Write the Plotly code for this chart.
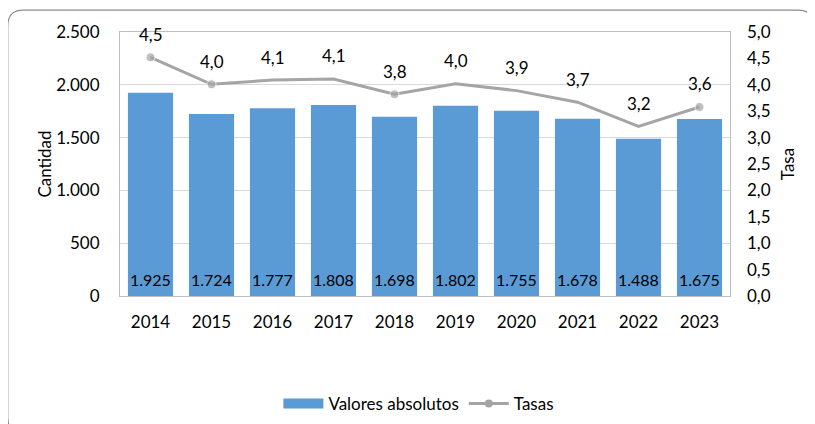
import plotly.graph_objects as go

years = ["2014", "2015", "2016", "2017", "2018", "2019", "2020", "2021", "2022", "2023"]
valores = [1925, 1724, 1777, 1808, 1698, 1802, 1755, 1678, 1488, 1675]
tasas = [4.52, 4.01, 4.09, 4.11, 3.82, 4.02, 3.89, 3.67, 3.21, 3.58]
tasas_label = ["4,5", "4,0", "4,1", "4,1", "3,8", "4,0", "3,9", "3,7", "3,2", "3,6"]
marker_sizes = [9, 9, 0, 0, 9, 0, 0, 0, 0, 9]

FONT = "Lato"
FS = 17
BLUE = "#5B9BD5"
GRAY = "#A5A5A5"

fig = go.Figure()
fig.add_trace(go.Bar(
    x=years, y=valores, name="Valores absolutos", showlegend=False,
    marker=dict(color=BLUE, line=dict(width=0)),
))
# legend-only entries
fig.add_trace(go.Scatter(
    x=[None], y=[None], name="Valores absolutos", mode="lines",
    line=dict(color=BLUE, width=11),
))
fig.add_trace(go.Scatter(
    x=[None], y=[None], name="Tasas", mode="lines+markers", yaxis="y2",
    line=dict(color=GRAY, width=3), marker=dict(color=GRAY, size=8),
))
fig.add_trace(go.Scatter(
    x=years, y=tasas, name="Tasas", yaxis="y2", mode="lines+markers", showlegend=False,
    line=dict(color=GRAY, width=3),
    marker=dict(color=GRAY, size=marker_sizes),
))
for i, v in enumerate(valores):
    fig.add_annotation(x=i, y=0, xref="x", yref="y", text=f"{v:,}".replace(",", "."),
                       showarrow=False, yshift=17, yanchor="middle",
                       font=dict(family=FONT, size=16, color="#000000"))
for i, (t, lab) in enumerate(zip(tasas, tasas_label)):
    fig.add_annotation(x=i, y=t, xref="x", yref="y2", text=lab, showarrow=False,
                       yshift=23, font=dict(family=FONT, size=FS, color="#000000"))

# rounded outer border (in paper units)
L, R, T, B = -0.184, 1.137, 1.083, -0.52
rx, ry = 0.025, 0.06
path = (f"M {L},{B+ry} L {L},{T-ry} Q {L},{T} {L+rx},{T} "
        f"L {R-rx},{T} Q {R},{T} {R},{T-ry} L {R},{B} "
        f"M {L},{B+ry} Q {L},{B} {L+rx},{B}")
fig.add_shape(type="path", xref="paper", yref="paper", path=path,
              line=dict(color="#8C8C8C", width=1.2), layer="below")

fig.update_layout(
    width=815, height=424,
    margin=dict(l=112, r=93, t=24, b=135),
    paper_bgcolor="white", plot_bgcolor="white",
    separators=",.",
    bargap=0.26,
    font=dict(family=FONT, size=FS, color="#000000"),
    showlegend=True,
    legend=dict(orientation="h", x=0.49, xanchor="center", y=-0.404, yanchor="middle",
                font=dict(family=FONT, size=FS), itemwidth=40, traceorder="normal"),
    xaxis=dict(type="category", range=[-0.5, 9.5], autorange=False, showgrid=False,
               showline=True, linecolor="#BFBFBF",
               mirror=True, ticks="", tickfont=dict(family=FONT, size=FS),
               ticklabelstandoff=11),
    yaxis=dict(range=[0, 2500], dtick=500, tickformat=",d", showgrid=True,
               gridcolor="#D9D9D9", showline=True, linecolor="#BFBFBF", mirror=True,
               zeroline=False, ticks="", ticklabelstandoff=16,
               tickfont=dict(family=FONT, size=FS),
               title=dict(text="Cantidad", font=dict(family=FONT, size=FS), standoff=0)),
    yaxis2=dict(range=[0, 5], dtick=0.5, tickformat=".1f", overlaying="y", side="right",
                showgrid=False, zeroline=False, showline=False, ticks="",
                ticklabelstandoff=16, tickfont=dict(family=FONT, size=FS),
                title=dict(text="Tasa", font=dict(family=FONT, size=FS), standoff=12)),
)

fig.write_html("out.html")
